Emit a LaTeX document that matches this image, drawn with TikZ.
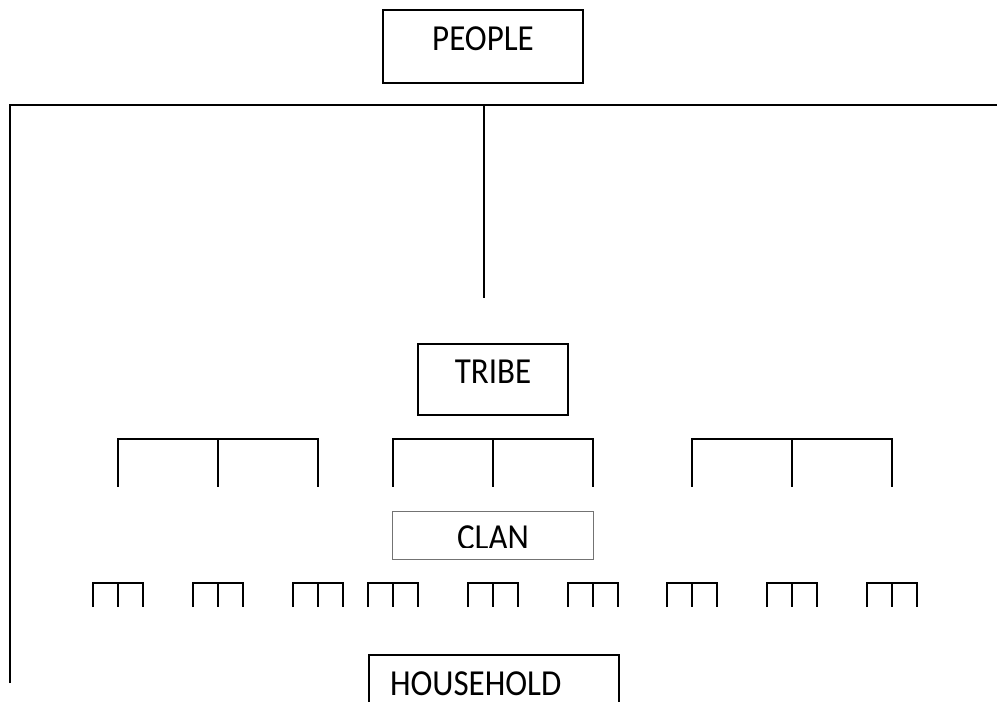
\documentclass[tikz,border=0pt]{standalone}
\usepackage{fontspec}
\setmainfont{Carlito}[FakeStretch=0.9]
\newdimen\pxu \pxu=0.75pt
\tikzset{
  line/.style={line width=2\pxu, black},
  lbl/.style={inner ysep=0pt, inner xsep=0pt, font=\fontsize{27.5pt}{30pt}\selectfont},
  box/.style={lbl, draw=black, line width=2\pxu},
  thinborder/.style={draw=black!55, line width=1\pxu}
}
\begin{document}
\begin{tikzpicture}[x=0.75pt,y=-0.75pt]
\useasboundingbox (0,0) rectangle (997,702);
\clip (0,0) rectangle (997,702);
% boxes
\node[box, anchor=north, minimum width=200\pxu, text height=41\pxu, text depth=32\pxu] (people) at (483,9) {PEOPLE};
\node[box, anchor=north, minimum width=150\pxu, text height=40\pxu, text depth=31\pxu] (tribe) at (493,343) {TRIBE};
\begin{scope}
  \clip (0,0) rectangle (997,547);
  \node[lbl, anchor=north, minimum width=200\pxu, text height=38\pxu, text depth=10\pxu] (clan) at (493,511) {CLAN};
\end{scope}
\draw[thinborder] (clan.south west) rectangle (clan.north east);
\node[box, anchor=north west, text width=208\pxu, align=left, inner xsep=21\pxu, text height=40\pxu, text depth=60\pxu] (household) at (368,654) {HOUSEHOLD};
% top frame
\coordinate (tl) at (9.5,105.5);
\coordinate (tr) at (999,105.5);
\coordinate (bl) at (9.5,683);
\coordinate (ctop) at (484,105.5);
\coordinate (cbot) at (484,298);
\draw[line] (bl) -- (tl) -- (tr);
\draw[line] (ctop) -- (cbot);
% large brackets
\foreach \c/\n in {218/a,493/b,792/c}{
  \coordinate (L\n) at (\c-100,487);
  \coordinate (LT\n) at (\c-100,439);
  \coordinate (M\n) at (\c,487);
  \coordinate (MT\n) at (\c,439);
  \coordinate (R\n) at (\c+100,487);
  \coordinate (RT\n) at (\c+100,439);
  \draw[line] (L\n) -- (LT\n) -- (RT\n) -- (R\n);
  \draw[line] (MT\n) -- (M\n);
}
% small brackets
\foreach \c [count=\i] in {118,218,318,393,493,593,692,792,892}{
  \coordinate (sl\i) at (\c-25,607);
  \coordinate (slt\i) at (\c-25,583);
  \coordinate (sm\i) at (\c,607);
  \coordinate (smt\i) at (\c,583);
  \coordinate (sr\i) at (\c+25,607);
  \coordinate (srt\i) at (\c+25,583);
  \draw[line] (sl\i) -- (slt\i) -- (srt\i) -- (sr\i);
  \draw[line] (smt\i) -- (sm\i);
}
\end{tikzpicture}
\end{document}
